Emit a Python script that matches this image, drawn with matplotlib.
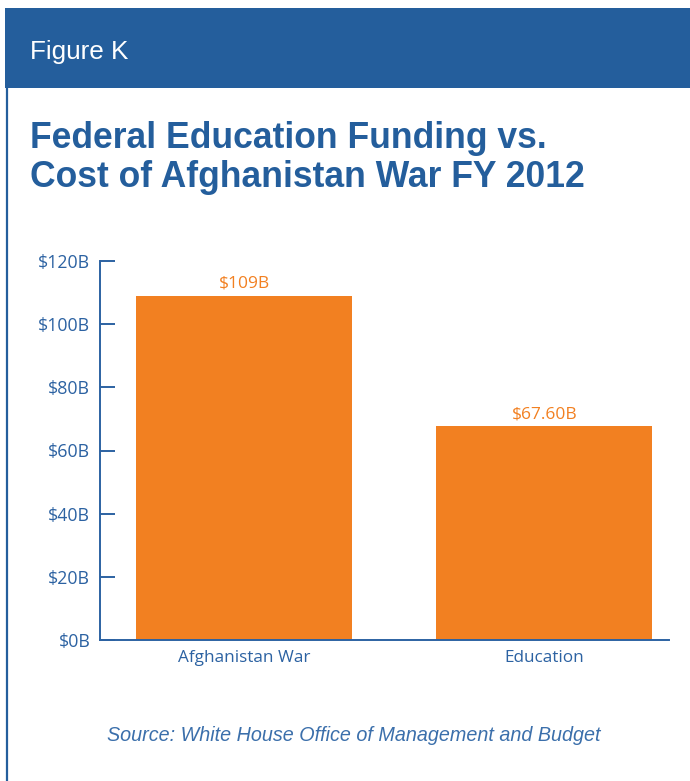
import matplotlib

matplotlib.use("Agg")
import matplotlib.pyplot as plt
from matplotlib.patches import Rectangle
from matplotlib.lines import Line2D

categories = ["Afghanistan War", "Education"]
values = [109.0, 67.6]
value_labels = ["$109B", "$67.60B"]
y_ticks = [0, 20, 40, 60, 80, 100, 120]
y_tick_labels = ["$0B", "$20B", "$40B", "$60B", "$80B", "$100B", "$120B"]

BLUE = "#245E9C"
AXIS_BLUE = "#2C62A2"
ORANGE = "#F28021"
W, H = 690, 781

fig = plt.figure(figsize=(W / 100, H / 100), dpi=100)
fig.patch.set_facecolor("white")

# header band and left rule
fig.patches.append(Rectangle((5 / W, 1 - 88 / H), 1, 80 / H, transform=fig.transFigure,
                             facecolor=BLUE, edgecolor="none"))
fig.lines.append(Line2D([6.5 / W, 6.5 / W], [0, 1 - 88 / H], transform=fig.transFigure,
                        color=BLUE, linewidth=1.6))
fig.text(30 / W, 1 - 59 / H, "Figure K", color="white", fontsize=18.8,
         family="Liberation Sans", va="baseline", ha="left")

fig.text(30 / W, 1 - 148 / H, "Federal Education Funding vs.", color=BLUE, fontsize=25.6,
         family="Liberation Sans", weight="bold", va="baseline", ha="left")
fig.text(30 / W, 1 - 187 / H, "Cost of Afghanistan War FY 2012", color=BLUE, fontsize=25.6,
         family="Liberation Sans", weight="bold", va="baseline", ha="left")

ax = fig.add_axes([100 / W, 1 - 640 / H, 569 / W, 379 / H])
x = list(range(len(categories)))
ax.bar(x, values, width=0.72, color=ORANGE, zorder=2)
ax.set_xlim(-0.48, 1.415)
ax.set_ylim(0, 120)

for xi, v, lab in zip(x, values, value_labels):
    ax.annotate(lab, (xi, v), xytext=(0, 3), textcoords="offset points",
                ha="center", va="bottom", color=ORANGE, fontsize=12.5, family="Open Sans")

for side in ("top", "right"):
    ax.spines[side].set_visible(False)
for side in ("left", "bottom"):
    ax.spines[side].set_color(AXIS_BLUE)
    ax.spines[side].set_linewidth(1.4)

ax.set_yticks(y_ticks)
ax.set_yticklabels(y_tick_labels, family="Open Sans", fontsize=12.8, color=AXIS_BLUE)
ax.tick_params(axis="y", direction="in", length=11, width=1.4, color=AXIS_BLUE, pad=7)
ax.set_xticks(x)
ax.set_xticklabels(categories, family="Open Sans", fontsize=12.3, color=AXIS_BLUE)
ax.tick_params(axis="x", length=0, pad=7)

fig.text(107 / W, 1 - 741 / H, "Source: White House Office of Management and Budget",
         color="#3B6FAB", fontsize=14.2, family="Liberation Sans", style="italic",
         va="baseline", ha="left")

fig.savefig("out.png", dpi=100, facecolor="white")
